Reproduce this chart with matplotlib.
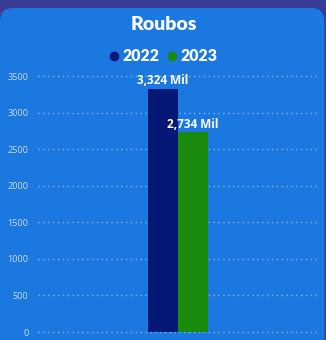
import matplotlib
matplotlib.use("Agg")
import matplotlib.pyplot as plt
from matplotlib.patches import FancyBboxPatch
from matplotlib.lines import Line2D

# Roubos por ano
years = ["2022", "2023"]
values = [3324, 2734]
value_labels = ["3,324 Mil", "2,734 Mil"]
yticks = [0, 500, 1000, 1500, 2000, 2500, 3000, 3500]

outer_bg = "#393c95"
card_bg = "#1b78e0"
bar_colors = ["#061875", "#1a8a0c"]

W, H = 326, 340
fig = plt.figure(figsize=(W / 100, H / 100), dpi=100)
fig.patch.set_facecolor(outer_bg)

# rounded card behind the chart
card = FancyBboxPatch((0.0, -0.1), 0.995, 1.1 - 8 / H,
                      boxstyle="round,pad=0,rounding_size=0.04",
                      transform=fig.transFigure, facecolor=card_bg,
                      edgecolor="none", zorder=-10)
fig.patches.append(card)

ax = fig.add_axes([38 / W, 8 / H, 280 / W, 256 / H])
ax.set_facecolor("none")
ax.set_zorder(2)

width = 30 / 280
offsets = [-width / 2, width / 2]
for x, v, c, lab in zip(offsets, values, bar_colors, value_labels):
    ax.bar(x, v, width=width, color=c, zorder=3)
    ax.text(x, v + 20, lab, ha="center", va="bottom", color="white",
            fontsize=8.5, fontweight="bold", family="Open Sans", zorder=4)

ax.set_xlim(-0.5, 0.5)
ax.set_ylim(0, 3500)
ax.set_yticks(yticks)
ax.set_yticklabels([str(t) for t in yticks], fontsize=6.6,
                   color="#c9dcf5", family="Open Sans")
ax.set_xticks([])
ax.tick_params(axis="y", length=0, pad=7)
for s in ax.spines.values():
    s.set_visible(False)
ax.grid(axis="y", color="#a8caf2", linestyle=(0, (1, 2.5)), linewidth=1.0,
        alpha=0.75, zorder=1)
for gl in ax.get_ygridlines():
    gl.set_clip_on(False)
ax.set_axisbelow(True)

fig.text(164 / W, 1 - 25 / H, "Roubos", ha="center", va="center",
         color="white", fontsize=14, fontweight="heavy", family="Lato")

handles = [Line2D([], [], marker="o", linestyle="none", markersize=6,
                  color=c) for c in bar_colors]
leg = fig.legend(handles, years, loc="center", ncol=2,
                 bbox_to_anchor=(162 / W, 1 - 56 / H), frameon=False,
                 handletextpad=0.05, columnspacing=0.3, handlelength=1.0,
                 prop={"family": "Lato", "weight": "heavy", "size": 11.3})
for t in leg.get_texts():
    t.set_color("white")

fig.savefig("out.png", dpi=100, facecolor=fig.get_facecolor())
